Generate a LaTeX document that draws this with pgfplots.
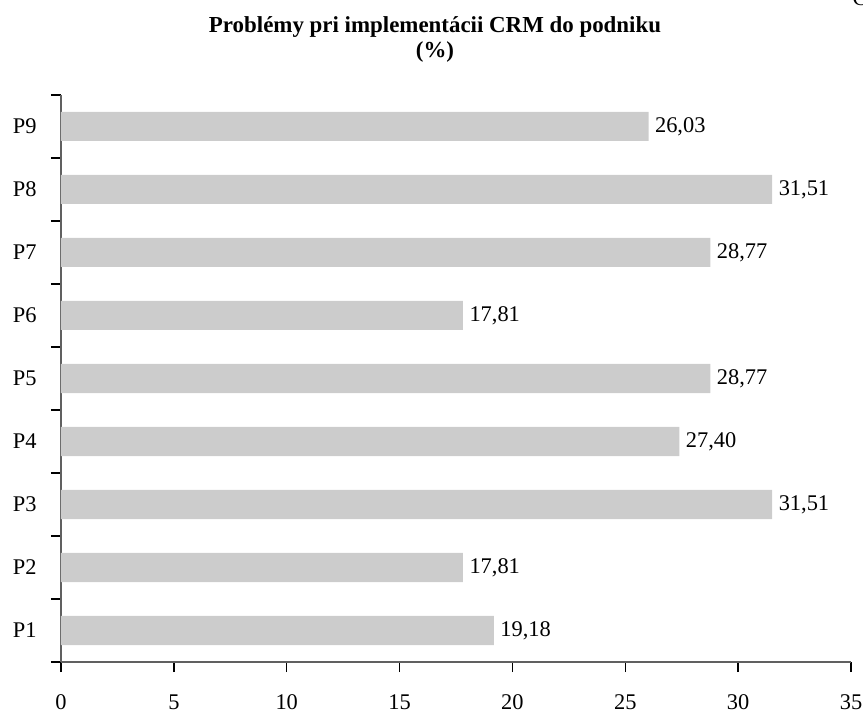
\documentclass[border=0pt]{standalone}
\usepackage{pgfplots}
\pgfplotsset{compat=1.18}
\usepackage{fontspec}
\setmainfont{Liberation Serif}
\definecolor{barfill}{HTML}{CCCCCC}
\definecolor{axisgray}{HTML}{606060}
\begin{document}
\begin{tikzpicture}
\useasboundingbox (-61bp,-51bp) rectangle (802bp,662bp);
\begin{axis}[
  at={(0,0)}, anchor=south west,
  scale only axis,
  width=790bp, height=567bp,
  xbar,
  bar width=29bp,
  xmin=0, xmax=35,
  ymin=0.5, ymax=9.5,
  xtick={0,5,...,35},
  ytick={0.5,1.5,...,9.5},
  yticklabels={P1,P2,P3,P4,P5,P6,P7,P8,P9,{}},
  major tick length=10bp,
  tick style={black, line width=1.3bp},
  tick align=outside,
  axis x line*=bottom,
  axis y line*=left,
  axis line style={axisgray, line width=1.6bp, -},
  /pgf/number format/assume math mode=true,
  tick label style={font=\fontsize{22.5}{26}\selectfont},
  xticklabel style={anchor=base, inner sep=0pt, yshift=-37bp},
  yticklabel style={xshift=-11bp, yshift=31.5bp},
  nodes near coords={\pgfmathprintnumber[fixed,fixed zerofill,precision=2,use comma,assume math mode=true]{\pgfplotspointmeta}},
  nodes near coords style={font=\fontsize{22.5}{26}\selectfont, anchor=west, xshift=3bp},
  clip=false,
]
\addplot[fill=barfill, draw=none] coordinates {
  (19.18,1) (17.81,2) (31.51,3) (27.40,4) (28.77,5) (17.81,6) (28.77,7) (31.51,8) (26.03,9)
};
\end{axis}
\node[font=\bfseries\fontsize{23}{26}\selectfont, anchor=base] at (374bp,629bp) {Problémy pri implementácii CRM do podniku};
\node[font=\bfseries\fontsize{23}{26}\selectfont, anchor=base] at (374bp,604bp) {(\%)};
\node[font=\fontsize{22.5}{26}\selectfont] at (799bp,664bp) {C};
\end{tikzpicture}
\end{document}
